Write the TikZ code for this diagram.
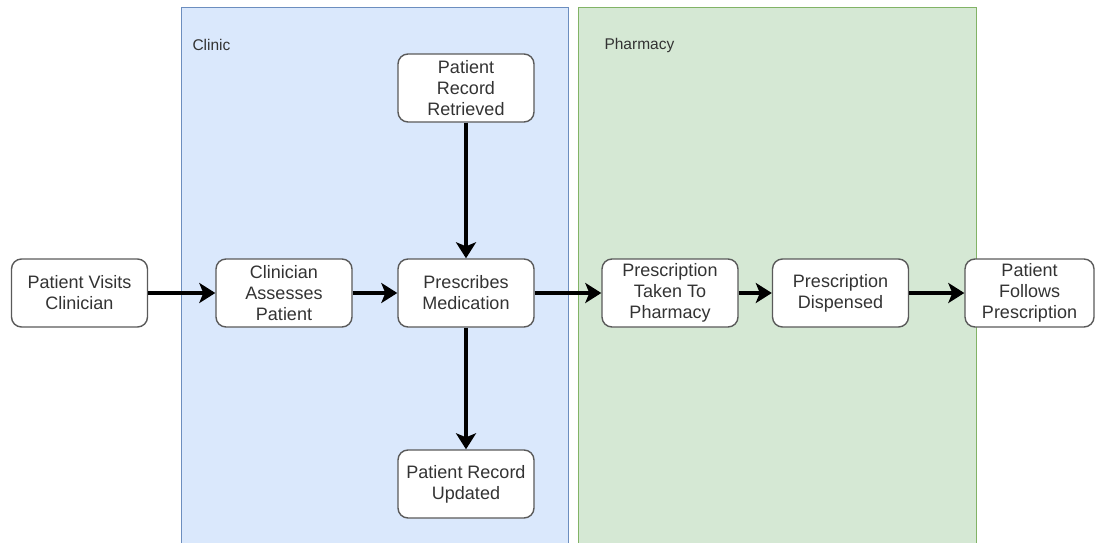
\documentclass[tikz,border=0pt]{standalone}
\usepackage{fontspec}
\setmainfont{Liberation Sans}
\usetikzlibrary{arrows.meta}
\definecolor{clinicfill}{HTML}{DAE8FC}
\definecolor{clinicline}{HTML}{6C8EBF}
\definecolor{pharmfill}{HTML}{D5E8D4}
\definecolor{pharmline}{HTML}{82B366}
\definecolor{boxline}{HTML}{5A5A5A}
\definecolor{txt}{HTML}{333333}
\tikzset{
  lane/.style={draw, line width=1pt},
  lanelabel/.style={anchor=west, font=\fontsize{15.5}{18}\selectfont, text=txt},
  stepbox/.style={draw=boxline, fill=white, line width=1.4pt, rounded corners=10pt,
    minimum width=136pt, minimum height=68pt, align=center, inner sep=1pt,
    font=\fontsize{18}{21}\selectfont, text=txt},
  flow/.style={line width=3.5pt, -{Stealth[length=16pt,width=20pt,inset=4pt]}}
}
\begin{document}
\begin{tikzpicture}[x=1pt,y=-1pt]
  \useasboundingbox (0,0) rectangle (1097,543);
  % swimlanes
  \path[lane, draw=clinicline, fill=clinicfill] (181,8) rectangle (568,560);
  \path[lane, draw=pharmline, fill=pharmfill] (578,8) rectangle (976,560);
  \node[lanelabel] (clinic) at (189,45) {Clinic};
  \node[lanelabel] (pharmacy) at (601,45) {Pharmacy};
  % process steps
  \node[stepbox] (visit) at (79.5,293) {Patient Visits\\Clinician};
  \node[stepbox] (assess) at (284,293) {Clinician\\Assesses\\Patient};
  \node[stepbox] (prescribe) at (466,293) {Prescribes\\Medication};
  \node[stepbox] (retrieved) at (466,88) {Patient\\Record\\Retrieved};
  \node[stepbox] (updated) at (466,484) {Patient Record\\Updated};
  \node[stepbox] (taken) at (670,293) {Prescription\\Taken To\\Pharmacy};
  \node[stepbox] (dispensed) at (840.5,293) {Prescription\\Dispensed};
  \node[stepbox, minimum width=129pt] (follows) at (1029.5,293) {Patient\\Follows\\Prescription};
  % connectors
  \draw[flow] (visit) -- (assess);
  \draw[flow] (assess) -- (prescribe);
  \draw[flow] (retrieved) -- (prescribe);
  \draw[flow] (prescribe) -- (updated);
  \draw[flow] (prescribe) -- (taken);
  \draw[flow] (taken) -- (dispensed);
  \draw[flow] (dispensed) -- (follows);
\end{tikzpicture}
\end{document}
